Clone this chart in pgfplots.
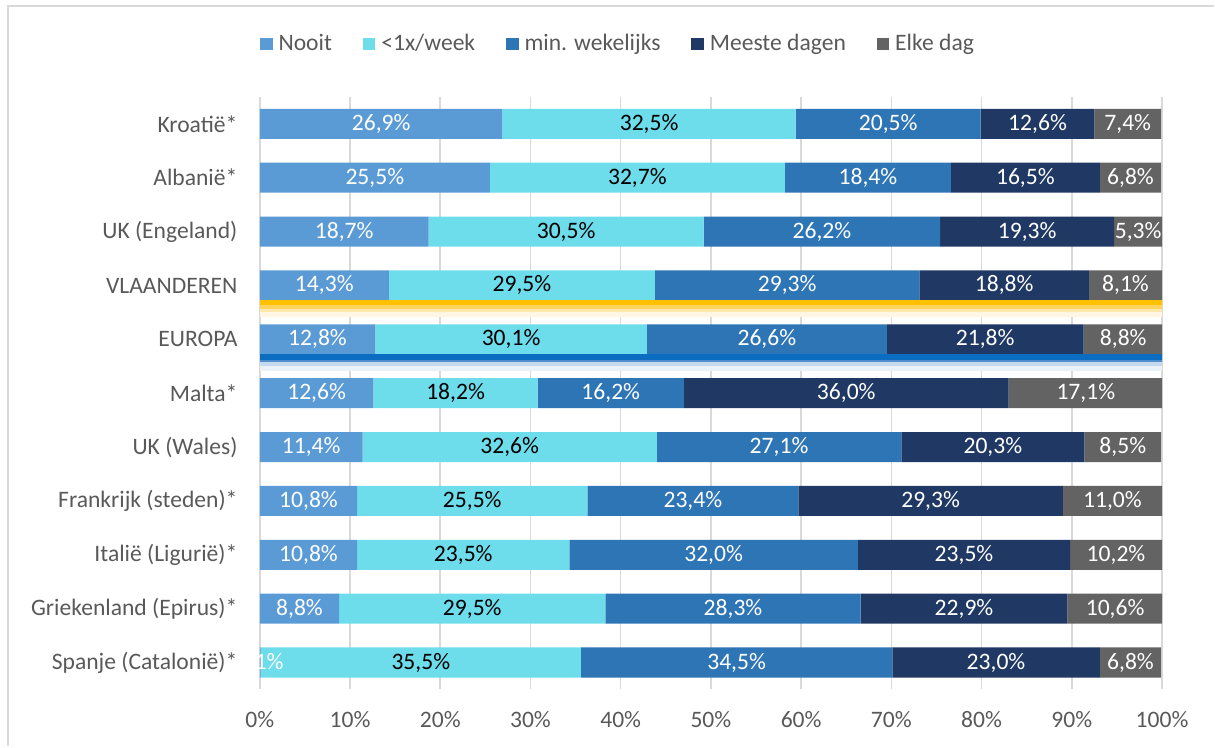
\documentclass[border=0pt]{standalone}
\usepackage{fontspec}
\setmainfont{Carlito}
\usepackage{pgfplots}
\usepackage{pgfplotstable}
\pgfplotsset{compat=1.18}
\definecolor{cNooit}{HTML}{5B9BD5}
\definecolor{cWeek}{HTML}{6DDCEB}
\definecolor{cMin}{HTML}{2E75B6}
\definecolor{cMeest}{HTML}{203864}
\definecolor{cElke}{HTML}{636363}
\definecolor{txt}{HTML}{595959}
\definecolor{grd}{HTML}{D9D9D9}
\definecolor{oA}{HTML}{FFC000}
\definecolor{oB}{HTML}{FFD35C}
\definecolor{oC}{HTML}{FFE8AE}
\definecolor{oD}{HTML}{FFF7E3}
\definecolor{bA}{HTML}{0B6DC1}
\definecolor{bB}{HTML}{4F8FD0}
\definecolor{bC}{HTML}{C5D9EE}
\definecolor{bD}{HTML}{EAF1F8}
\pgfplotstableread{
y a b c d e
0 26.9 32.5 20.5 12.6 7.4
1 25.5 32.7 18.4 16.5 6.8
2 18.7 30.5 26.2 19.3 5.3
3 14.3 29.5 29.3 18.8 8.1
4 12.8 30.1 26.6 21.8 8.8
5 12.6 18.2 16.2 36.0 17.1
6 11.4 32.6 27.1 20.3 8.5
7 10.8 25.5 23.4 29.3 11.0
8 10.8 23.5 32.0 23.5 10.2
9 8.8 29.5 28.3 22.9 10.6
10 0.1 35.5 34.5 23.0 6.8
}\data
\newcommand{\fs}{\fontsize{11.8}{14}\selectfont}
\pgfplotsset{
  base/.style={
    scale only axis, width=451.5pt, height=296.5pt,
    xbar stacked, bar width=0.557,
    xmin=0, xmax=100, ymin=-0.5, ymax=10.5, y dir=reverse,
    /pgf/number format/assume math mode=true,
  },
  lab/.style={
    fill=none, draw=none,
    nodes near coords={\pgfmathprintnumber[fixed,fixed zerofill,precision=1,use comma,assume math mode=true]{\pgfplotspointmeta}\%},
    point meta=explicit,
    every node near coord/.style={anchor=center, text=#1, font=\fs, inner sep=0pt},
  },
}
\begin{document}
\begin{tikzpicture}
\begin{axis}[base, name=ax,
  axis line style={draw=none},
  major tick length=0pt,
  xmajorgrids, grid style={grd, line width=0.8pt},
  xtick={0,10,...,100},
  xticklabel={\pgfmathprintnumber{\tick}\%},
  xticklabel style={font=\fs, text=txt, anchor=center, yshift=-15pt},
  ytick={0,...,10},
  yticklabels={Kroatië*, Albanië*, UK (Engeland), VLAANDEREN, EUROPA, Malta*, UK (Wales), Frankrijk (steden)*, Italië (Ligurië)*, Griekenland (Epirus)*, Spanje (Catalonië)*},
  yticklabel style={font=\fs, text=txt, inner sep=0pt, anchor=east, xshift=-11pt},
  legend columns=5,
  legend style={at={(0,1)}, anchor=west, yshift=26.5pt, draw=none, fill=none, font=\fs, text=txt, inner sep=0pt,
    /tikz/every even column/.append style={column sep=13.5pt}},
  legend image code/.code={\fill[#1] (0pt,-3.1pt) rectangle (6.2pt,3.1pt);},
]
% glow below VLAANDEREN and EUROPA
\fill[oA] (axis cs:0,3.2785) rectangle (axis cs:100.3,3.37);
\fill[oB] (axis cs:0,3.37) rectangle (axis cs:100.4,3.43);
\fill[oC] (axis cs:0,3.43) rectangle (axis cs:100.4,3.50);
\fill[oD] (axis cs:0,3.50) rectangle (axis cs:100.4,3.594);
\fill[bA] (axis cs:0,4.2785) rectangle (axis cs:100.3,4.38);
\fill[bB] (axis cs:0,4.38) rectangle (axis cs:100.4,4.43);
\fill[bC] (axis cs:0,4.43) rectangle (axis cs:100.4,4.50);
\fill[bD] (axis cs:0,4.50) rectangle (axis cs:100.4,4.594);
\addplot[fill=cNooit, draw=none] table[x=a, y=y] {\data};
\addplot[fill=cWeek, draw=none] table[x=b, y=y] {\data};
\addplot[fill=cMin, draw=none] table[x=c, y=y] {\data};
\addplot[fill=cMeest, draw=none] table[x=d, y=y] {\data};
\addplot[fill=cElke, draw=none] table[x=e, y=y] {\data};
\legend{\hspace{1pt}Nooit, {\hspace{1pt}<1x/week}, \hspace{1pt}min. wekelijks, \hspace{1pt}Meeste dagen, \hspace{1pt}Elke dag}
\end{axis}
\begin{axis}[base, hide axis, clip=false]
\addplot[lab=white] table[x=a, y=y, meta=a] {\data};
\addplot[lab=black] table[x=b, y=y, meta=b] {\data};
\addplot[lab=white] table[x=c, y=y, meta=c] {\data};
\addplot[lab=white] table[x=d, y=y, meta=d] {\data};
\addplot[lab=white] table[x=e, y=y, meta=e] {\data};
\end{axis}
\draw[grd, line width=1pt] ([shift={(-125.75pt,-28.5pt)}]ax.south west) -- ([shift={(-125.75pt,341.75pt)}]ax.south west) -- ([shift={(477.5pt,341.75pt)}]ax.south west);
\path ([shift={(-130pt,-28.5pt)}]ax.south west) rectangle ([shift={(477.5pt,345pt)}]ax.south west);
\end{tikzpicture}
\end{document}
